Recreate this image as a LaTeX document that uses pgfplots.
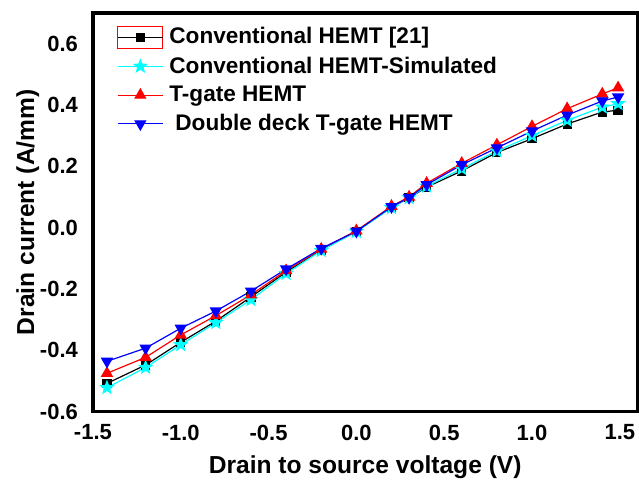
\documentclass[border=0pt]{standalone}
\usepackage{pgfplots}
\pgfplotsset{compat=1.18}
\usepackage{fontspec}
\setmainfont{Liberation Sans}
\definecolor{cyn}{RGB}{0,255,255}

% filled five-pointed star
\pgfdeclareplotmark{fstar}{%
 \pgfpathmoveto{\pgfpointpolar{90}{\pgfplotmarksize}}%
 \pgfpathlineto{\pgfpointpolar{126}{0.42\pgfplotmarksize}}%
 \pgfpathlineto{\pgfpointpolar{162}{\pgfplotmarksize}}%
 \pgfpathlineto{\pgfpointpolar{198}{0.42\pgfplotmarksize}}%
 \pgfpathlineto{\pgfpointpolar{234}{\pgfplotmarksize}}%
 \pgfpathlineto{\pgfpointpolar{270}{0.42\pgfplotmarksize}}%
 \pgfpathlineto{\pgfpointpolar{306}{\pgfplotmarksize}}%
 \pgfpathlineto{\pgfpointpolar{342}{0.42\pgfplotmarksize}}%
 \pgfpathlineto{\pgfpointpolar{18}{\pgfplotmarksize}}%
 \pgfpathlineto{\pgfpointpolar{54}{0.42\pgfplotmarksize}}%
 \pgfpathclose\pgfusepathqfillstroke}

\pgfplotstableread{
x      conv   sim    tg     dd
-1.42 -0.508 -0.522 -0.475 -0.436
-1.2  -0.448 -0.456 -0.423 -0.393
-1.0  -0.374 -0.382 -0.350 -0.328
-0.8  -0.305 -0.310 -0.287 -0.272
-0.6  -0.226 -0.235 -0.219 -0.207
-0.4  -0.145 -0.150 -0.140 -0.135
-0.2  -0.073 -0.075 -0.070 -0.068
0.0   -0.012 -0.013 -0.010 -0.012
0.2    0.066  0.065  0.070  0.068
0.3    0.097  0.097  0.100  0.098
0.4    0.132  0.135  0.145  0.140
0.6    0.185  0.192  0.210  0.205
0.8    0.245  0.250  0.270  0.260
1.0    0.290  0.300  0.330  0.315
1.2    0.338  0.350  0.388  0.367
1.4    0.377  0.393  0.436  0.413
1.49   0.383  0.404  0.456  0.426
}\ivdata

\begin{document}
\begin{tikzpicture}
\begin{axis}[
  scale only axis, width=272.5pt, height=199.5pt,
  xmin=-1.5, xmax=1.6, ymin=-0.6, ymax=0.7,
  xtick={-1.5,-1.0,-0.5,0,0.5,1.0,1.5},
  ytick={-0.6,-0.4,-0.2,0,0.2,0.4,0.6},
  major tick length=0pt,
  axis line style={line width=1.6pt},
  tick label style={font=\bfseries\fontsize{11}{13}\selectfont},
  xticklabel style={yshift=-3pt, inner xsep=0pt},
  yticklabel style={xshift=-4pt},
  /pgf/number format/.cd, fixed, fixed zerofill, precision=1, assume math mode=true,
  /pgfplots/.cd,
  xlabel={\bfseries Drain to source voltage (V)},
  ylabel={\bfseries Drain current (A/mm)},
  label style={font=\bfseries\fontsize{12.3}{14}\selectfont},
  xlabel style={yshift=-1pt},
  ylabel style={yshift=-6.5pt},
  legend image code/.code={\draw[mark repeat=2,mark phase=2] plot coordinates {(0pt,0pt)(11.25pt,0pt)(22.5pt,0pt)};},
  legend style={draw=none, fill=none, at={(0.044,0.972)}, anchor=north west,
    font=\bfseries\fontsize{11.3}{13}\selectfont, row sep=1.9pt,
    inner sep=0pt, nodes={inner ysep=1.5pt, inner xsep=3pt}},
  legend cell align=left,
]
\addplot[black, line width=0.6pt, mark=square*, mark size=2pt, mark options={solid},
  legend image code/.code={
    \draw[red, line width=0.6pt] (0pt,-5.5pt) rectangle (22.5pt,5.5pt);
    \draw[mark repeat=2,mark phase=2] plot coordinates {(0pt,0pt)(11.25pt,0pt)(22.5pt,0pt)};}]
  table[x=x,y=conv] {\ivdata};
\addplot[cyn, line width=0.6pt, mark=fstar, mark size=3.2pt] table[x=x,y=sim] {\ivdata};
\addplot[red, line width=0.6pt, mark=triangle*, mark size=3pt] table[x=x,y=tg] {\ivdata};
\addplot[blue, line width=0.6pt, mark=triangle*, mark size=3pt, mark options={rotate=180}] table[x=x,y=dd] {\ivdata};
\legend{Conventional HEMT [21], Conventional HEMT-Simulated, T-gate HEMT, \hspace{3pt}Double deck T-gate HEMT}
\end{axis}
\path (current axis.north) ++(0,6.5pt);
\path (current axis.west) ++(-46.5pt,0);
\end{tikzpicture}
\end{document}
